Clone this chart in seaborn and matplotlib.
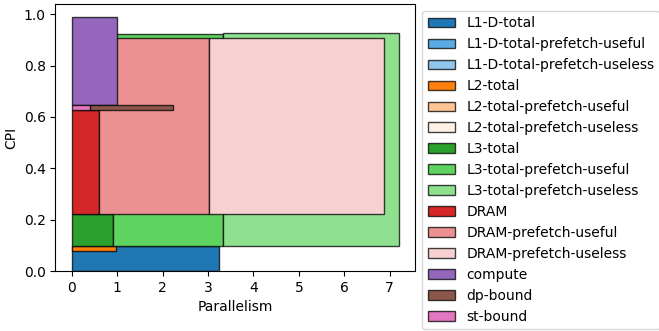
import colorsys
import matplotlib
matplotlib.use("Agg")
import matplotlib.pyplot as plt
from matplotlib.colors import to_rgb
from matplotlib.patches import Patch
import seaborn as sns

names = ["L1-D-total", "L1-D-total-prefetch-useful", "L1-D-total-prefetch-useless",
         "L2-total", "L2-total-prefetch-useful", "L2-total-prefetch-useless",
         "L3-total", "L3-total-prefetch-useful", "L3-total-prefetch-useless",
         "DRAM", "DRAM-prefetch-useful", "DRAM-prefetch-useless",
         "compute", "dp-bound", "st-bound"]
# rectangle for each component: start / width along parallelism, bottom / height in CPI
par_start = [0.0, 0.0, 0.0, 0.0, 0.0, 0.0, 0.0, 0.91, 3.33, 0.0, 0.60, 3.02, 0.0, 0.40, 0.0]
par_width = [3.24, 0.0, 0.0, 0.97, 0.0, 0.0, 0.91, 2.42, 3.87, 0.60, 2.42, 3.85, 1.00, 1.82, 0.40]
cpi_bottom = [0.0, 0.0, 0.0, 0.080, 0.0, 0.0, 0.096, 0.096, 0.096, 0.222, 0.222, 0.222, 0.648, 0.626, 0.626]
cpi_height = [0.096, 0.0, 0.0, 0.016, 0.0, 0.0, 0.126, 0.825, 0.829, 0.404, 0.687, 0.687, 0.342, 0.022, 0.022]


def lighten(c, f):
    h, l, s = colorsys.rgb_to_hls(*to_rgb(c))
    return colorsys.hls_to_rgb(h, min(1, l * f), s)


pal = sns.color_palette("tab10")
colors = []
for base in pal[:4]:
    colors += [base, lighten(base, 1.5), lighten(base, 1.8)]
colors += [pal[4], pal[5], pal[6]]

fig, ax = plt.subplots(figsize=(6.59, 3.31), dpi=100)
edge = (0, 0, 0, 0.75)
for i, name in enumerate(names):
    if par_width[i] > 0 and cpi_height[i] > 0:
        ax.bar(par_start[i], cpi_height[i], width=par_width[i], bottom=cpi_bottom[i],
               align="edge", color=colors[i], edgecolor=edge, linewidth=1)

handles = [Patch(facecolor=colors[i], edgecolor=edge, label=n) for i, n in enumerate(names)]
ax.legend(handles=handles, loc="upper left", bbox_to_anchor=(1.0, 1.0),
          fontsize=10, labelspacing=0.5)
ax.set_xlabel("Parallelism")
ax.set_ylabel("CPI")
fig.subplots_adjust(left=0.084, right=0.630, top=0.988, bottom=0.181)
fig.savefig("out.png")
